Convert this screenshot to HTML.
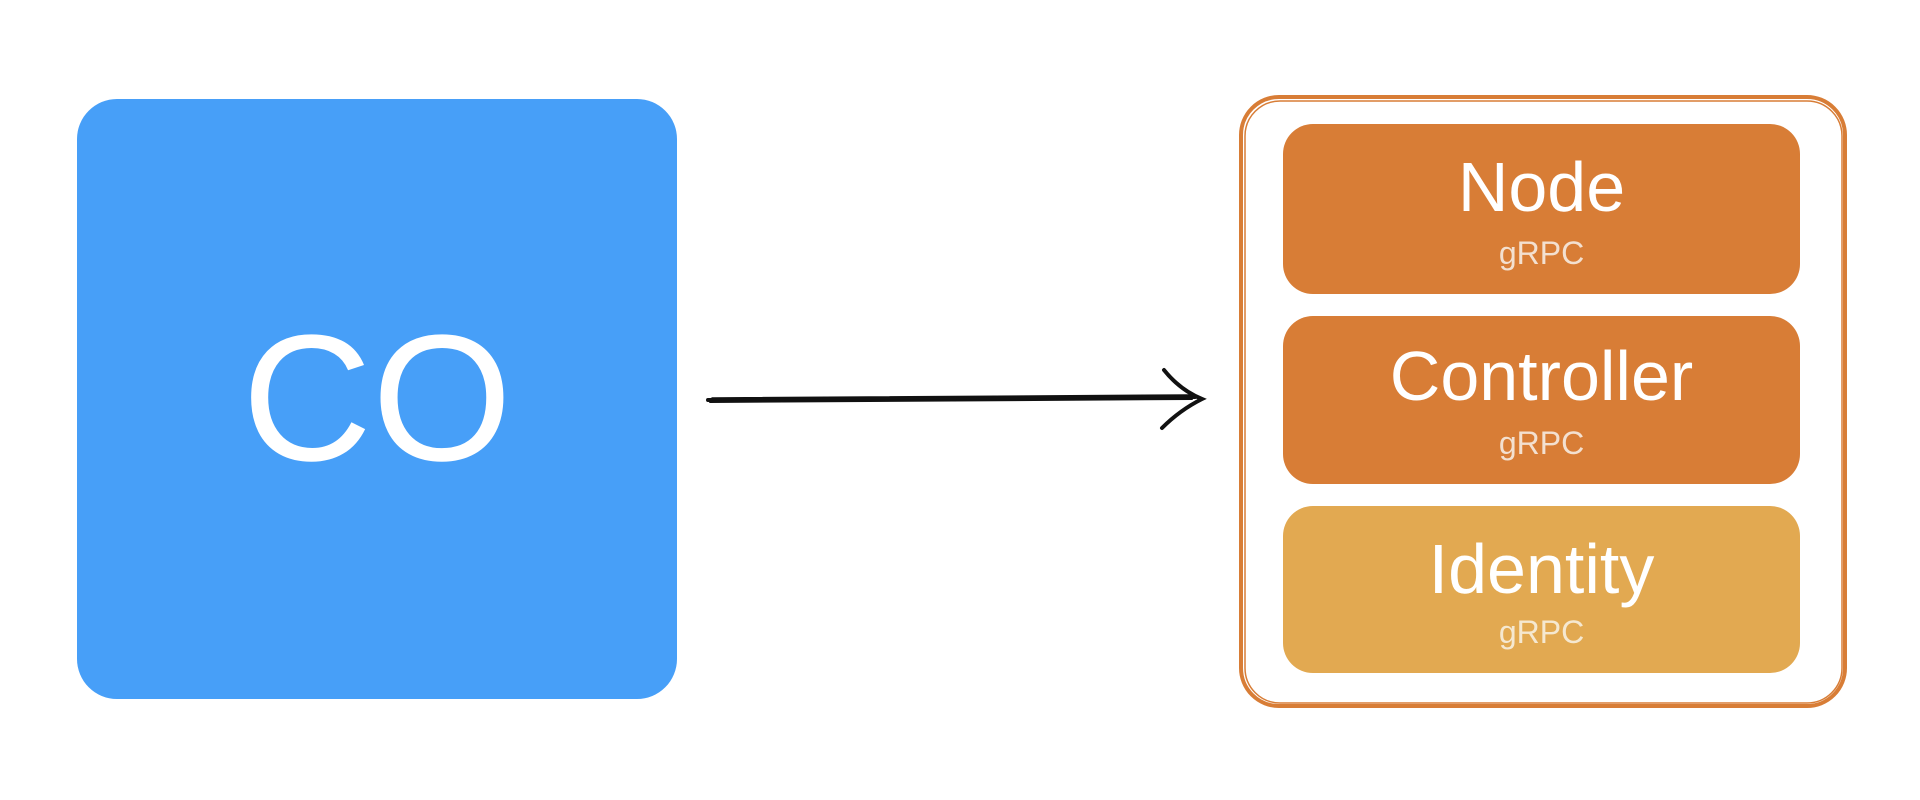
<!DOCTYPE html>
<html><head><meta charset="utf-8"><style>
body{margin:0;width:1920px;height:800px;background:#fff;position:relative;overflow:hidden;font-family:"Liberation Sans",sans-serif}
.box{position:absolute;border-radius:30px;color:#fff;text-align:center}
.t{position:absolute;left:0;right:0;line-height:1}
</style></head><body>
<div class="box" style="left:77px;top:99px;width:600px;height:600px;background:#479FF8;border-radius:40px">
<div class="t" style="top:210px;font-size:180px">CO</div></div>
<svg width="1920" height="800" style="position:absolute;left:0;top:0">
<g stroke="#111" fill="none" stroke-linecap="round">
<path d="M708 400 L1195 397" stroke-width="4"/>
<path d="M710 402 L1192 399" stroke-width="2"/>
<path d="M712 398 L1190 395" stroke-width="1.5"/>
<path d="M1164 370 Q1180 390 1202 399 Q1180 410 1162 428" stroke-width="4"/>
</g>
<rect x="1241" y="97" width="604" height="609" rx="38" fill="none" stroke="#D87D36" stroke-width="4"/>
<rect x="1245" y="101" width="597" height="602" rx="35" fill="none" stroke="#D87D36" stroke-width="1.5"/>
</svg>
<div class="box" style="left:1283px;top:124px;width:517px;height:170px;background:#D87D36">
<div class="t" style="top:28px;font-size:70px">Node</div>
<div class="t" style="top:113px;font-size:32px;color:#f3e0d0">gRPC</div></div>
<div class="box" style="left:1283px;top:316px;width:517px;height:168px;background:#D87D36">
<div class="t" style="top:25px;font-size:70px">Controller</div>
<div class="t" style="top:111px;font-size:32px;color:#f3e0d0">gRPC</div></div>
<div class="box" style="left:1283px;top:506px;width:517px;height:167px;background:#E2A951">
<div class="t" style="top:28px;font-size:70px">Identity</div>
<div class="t" style="top:110px;font-size:32px;color:#f5e8d0">gRPC</div></div>
</body></html>
